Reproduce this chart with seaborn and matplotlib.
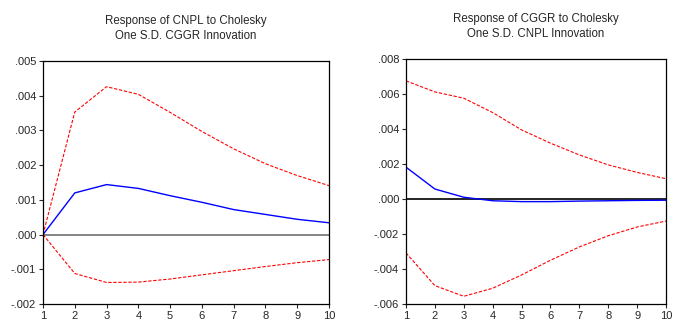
import seaborn as sns
from matplotlib import pyplot as plt
from matplotlib.ticker import FuncFormatter
import pandas as pd

periods = [1, 2, 3, 4, 5, 6, 7, 8, 9, 10]

cnpl_resp = [0.0, 0.00120, 0.00144, 0.00133, 0.00112, 0.00093, 0.00072, 0.00058, 0.00044, 0.00034]
cnpl_upper = [0.0, 0.00353, 0.00426, 0.00404, 0.00352, 0.00297, 0.00247, 0.00204, 0.00170, 0.00141]
cnpl_lower = [0.0, -0.00112, -0.00138, -0.00137, -0.00128, -0.00116, -0.00104, -0.00092, -0.00081, -0.00072]

cggr_resp = [0.00182, 0.00057, 0.00010, -0.00010, -0.00015, -0.00015, -0.00012, -0.00010, -0.00008, -0.00007]
cggr_upper = [0.00675, 0.00612, 0.00576, 0.00494, 0.00395, 0.00319, 0.00252, 0.00195, 0.00152, 0.00116]
cggr_lower = [-0.00308, -0.00495, -0.00556, -0.00510, -0.00434, -0.00350, -0.00274, -0.00210, -0.00160, -0.00126]

titles = ['Response of CNPL to Cholesky\nOne S.D. CGGR Innovation',
          'Response of CGGR to Cholesky\nOne S.D. CNPL Innovation']


def fmt(v, pos):
    s = '%.3f' % v
    if s.startswith('-0'):
        return '-' + s[2:]
    if s.startswith('0'):
        return s[1:]
    return s


sns.set_style('ticks')
plt.rcParams['font.family'] = ['Liberation Sans', 'DejaVu Sans']

fig = plt.figure(figsize=(6.8, 3.22), dpi=100)
ax1 = fig.add_axes([43 / 680, 1 - 304 / 322, 286 / 680, 243 / 322])
ax2 = fig.add_axes([406 / 680, 1 - 304 / 322, 260 / 680, 245 / 322])


def draw_panel(ax, resp, upper, lower, title, ylim, step, zero_color):
    df = pd.DataFrame({'period': periods, 'resp': resp, 'upper': upper, 'lower': lower})
    ax.axhline(0, color=zero_color, lw=1.2, zorder=1)
    sns.lineplot(data=df, x='period', y='upper', ax=ax, color='red', lw=0.8, linestyle=(0, (3, 1.5)))
    sns.lineplot(data=df, x='period', y='lower', ax=ax, color='red', lw=0.8, linestyle=(0, (3, 1.5)))
    sns.lineplot(data=df, x='period', y='resp', ax=ax, color='blue', lw=1.0)
    ax.set_xlim(1, 10)
    ax.set_ylim(*ylim)
    ax.set_xticks(periods)
    ticks = []
    v = ylim[0]
    while v <= ylim[1] + 1e-9:
        ticks.append(v)
        v += step
    ax.set_yticks(ticks)
    ax.yaxis.set_major_formatter(FuncFormatter(fmt))
    ax.set_xlabel('')
    ax.set_ylabel('')
    ax.set_title(title, fontsize=8.3, pad=16, linespacing=1.35)
    ax.tick_params(labelsize=8, length=3, width=0.8, pad=2)
    for sp in ax.spines.values():
        sp.set_linewidth(0.9)
        sp.set_color('black')


draw_panel(ax1, cnpl_resp, cnpl_upper, cnpl_lower, titles[0], (-0.002, 0.005), 0.001, '#707070')
draw_panel(ax2, cggr_resp, cggr_upper, cggr_lower, titles[1], (-0.006, 0.008), 0.002, 'black')

fig.savefig('out.png', dpi=100)
